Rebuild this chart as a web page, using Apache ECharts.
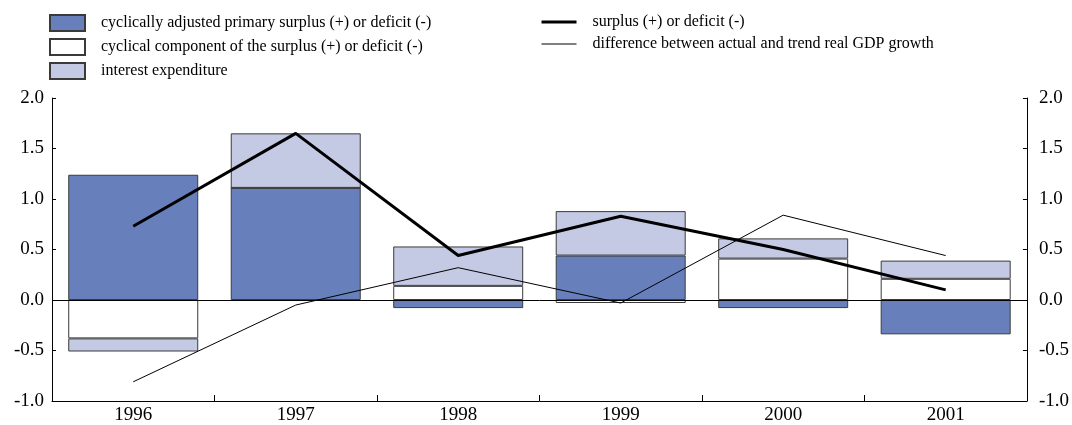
<!DOCTYPE html>
<html>
<head>
<meta charset="utf-8">
<script src="https://cdn.jsdelivr.net/npm/echarts@6/dist/echarts.min.js"></script>
<style>
  html, body { margin: 0; padding: 0; background: #fff; }
  #chart { width: 1072px; height: 425px; }
</style>
</head>
<body>
<div id="chart"></div>
<script>
const years = ['1996', '1997', '1998', '1999', '2000', '2001']
const primarySurplus = [1.24, 1.11, -0.08, 0.44, -0.08, -0.34]
const cyclicalComponent = [-0.38, 0, 0.14, -0.03, 0.41, 0.21]
const interestExpenditure = [-0.13, 0.54, 0.39, 0.44, 0.20, 0.18]
const surplus = [0.73, 1.65, 0.44, 0.83, 0.50, 0.10]
const growthGap = [-0.81, -0.05, 0.32, -0.03, 0.84, 0.44]

const font = 'Liberation Serif'
const chart = echarts.init(document.getElementById('chart'))

function barSeries(name, data, color) {
  return {
    name,
    type: 'bar',
    stack: 'total',
    data,
    barWidth: '80%',
    itemStyle: { color, borderColor: '#3a3a3a', borderWidth: 1 }
  }
}

function lineSeries(name, data, width) {
  return {
    name,
    type: 'line',
    data,
    symbol: 'none',
    z: 5,
    lineStyle: { color: '#000', width },
    itemStyle: { color: '#000' }
  }
}

const yAxisBase = {
  type: 'value',
  min: -1,
  max: 2,
  interval: 0.5,
  axisLine: { show: true, lineStyle: { color: '#000' } },
  axisTick: { show: true, inside: true, length: 4, lineStyle: { color: '#000' } },
  splitLine: { show: false },
  axisLabel: { color: '#000', fontFamily: font, fontSize: 19, formatter: v => v.toFixed(1) }
}

const bars = barSeries('cyclically adjusted primary surplus (+) or deficit (-)', primarySurplus, '#6780bc')
bars.markLine = {
  silent: true,
  symbol: 'none',
  label: { show: false },
  lineStyle: { color: '#000', width: 1, type: 'solid' },
  data: [{ yAxis: 0 }]
}

const legendText = { fontFamily: font, fontSize: 16, color: '#000', padding: [0, 0, 0, 11] }

chart.setOption({
  animation: false,
  grid: { left: 52, right: 43, top: 98, bottom: 21 },
  legend: [
    {
      orient: 'vertical', left: 49, top: 14, padding: 0, itemWidth: 35, itemHeight: 16, itemGap: 6,
      textStyle: legendText,
      data: [
        { name: 'cyclically adjusted primary surplus (+) or deficit (-)', icon: 'rect' },
        { name: 'cyclical component of the surplus (+) or deficit (-)', icon: 'rect' },
        { name: 'interest expenditure', icon: 'rect' }
      ]
    },
    {
      orient: 'vertical', left: 540, top: 14, padding: 0, itemWidth: 35, itemHeight: 16, itemGap: 6,
      textStyle: legendText,
      data: [
        { name: 'surplus (+) or deficit (-)', itemStyle: { opacity: 0 }, lineStyle: { width: 3 } },
        { name: 'difference between actual and trend real GDP growth', itemStyle: { opacity: 0 }, lineStyle: { width: 1 } }
      ]
    }
  ],
  xAxis: {
    type: 'category',
    data: years,
    axisLine: { onZero: false, lineStyle: { color: '#000' } },
    axisTick: { show: true, inside: true, length: 6, lineStyle: { color: '#000' } },
    axisLabel: { color: '#000', fontFamily: font, fontSize: 19, margin: 5 }
  },
  yAxis: [
    Object.assign({}, yAxisBase, { position: 'left', axisLabel: Object.assign({}, yAxisBase.axisLabel, { margin: 8 }) }),
    Object.assign({}, yAxisBase, { position: 'right', axisLabel: Object.assign({}, yAxisBase.axisLabel, { margin: 12 }) })
  ],
  series: [
    bars,
    barSeries('cyclical component of the surplus (+) or deficit (-)', cyclicalComponent, '#ffffff'),
    barSeries('interest expenditure', interestExpenditure, '#c5cae4'),
    lineSeries('surplus (+) or deficit (-)', surplus, 3),
    lineSeries('difference between actual and trend real GDP growth', growthGap, 1)
  ]
})
</script>
</body>
</html>
